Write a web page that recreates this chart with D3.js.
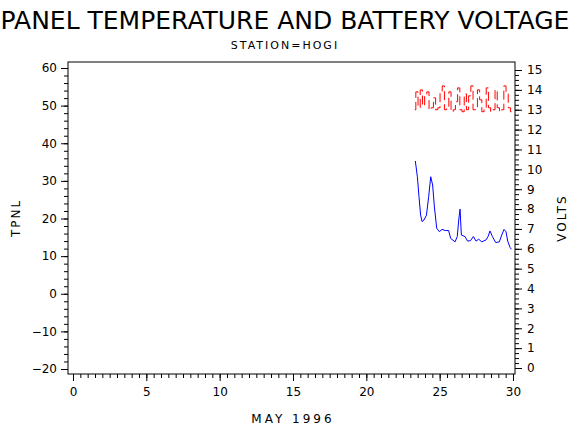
<!DOCTYPE html>
<html><head><meta charset="utf-8">
<script src="https://cdn.jsdelivr.net/npm/d3@7"></script>
<style>body{margin:0;background:#fff}text{font-family:"DejaVu Sans",sans-serif}</style>
</head><body><svg id="c" width="570" height="430"></svg>
<script>
const tpnlDays=[23.34,23.48,23.59,23.7,23.8,23.93,24.1,24.25,24.39,24.52,24.64,24.8,24.98,25.16,25.39,25.61,25.75,26.05,26.2,26.3,26.39,26.48,26.73,26.9,27.1,27.3,27.48,27.66,27.87,28.16,28.3,28.43,28.6,28.82,29.07,29.23,29.39,29.52,29.64,29.8,29.9];
const tpnl=[35.3,31.1,25.8,20.9,19.2,19.6,20.9,25.8,31.1,28.9,23.1,17.4,16.5,17.1,16.8,16.8,14.7,13.8,15.2,19.6,22.5,15.6,15.2,14.0,14.1,15.2,14.0,14.5,13.8,14.3,15.2,16.7,15.2,13.6,13.8,15.6,17.1,16.5,14.0,12.3,11.8];
const voltDays=[23.3,23.45,23.6,23.75,23.9,24.05,24.2,24.35,24.5,24.65,24.8,24.95,25.1,25.25,25.4,25.55,25.7,25.85,26.0,26.15,26.3,26.45,26.6,26.75,26.9,27.05,27.2,27.35,27.5,27.65,27.8,27.95,28.1,28.25,28.4,28.55,28.7,28.85,29.0,29.15,29.3,29.45,29.6,29.75,29.9];
const volts=[13.0,13.9,13.1,14.0,13.2,13.8,13.9,13.0,13.1,13.6,13.0,13.1,13.9,14.2,13.0,13.1,13.9,12.9,13.0,13.4,14.1,13.0,12.9,13.8,13.0,13.7,14.2,13.0,13.0,14.0,13.5,12.9,13.0,14.1,13.1,12.9,13.0,14.0,13.1,12.9,13.0,14.2,13.9,13.1,12.9];
const xTicks=[0,5,10,15,20,25,30];
const leftTicks=[-20,-10,0,10,20,30,40,50,60];
const rightTicks=d3.range(0,16);

const svg=d3.select("#c");
const L=68,R=515,T=62,B=374;
const x=d3.scaleLinear().domain([0,30]).range([73,513]);
const yL=d3.scaleLinear().domain([-20,60]).range([369,68]);
const yR=d3.scaleLinear().domain([0,15]).range([368,70]);

svg.append("rect").attr("x",L).attr("y",T).attr("width",R-L).attr("height",B-T).attr("fill","none").attr("stroke","#000");

const fs="12px";
function styleAxis(g){g.select(".domain").remove();g.selectAll("line").attr("stroke","#000");g.selectAll("text").attr("font-size",fs).attr("fill","#000");}
svg.append("g").attr("transform",`translate(0,${B})`).call(d3.axisBottom(x).tickValues(d3.range(0,30.01,0.5)).tickSize(4).tickFormat("")).call(styleAxis);
svg.append("g").attr("transform",`translate(0,${B})`).call(d3.axisBottom(x).tickValues(xTicks).tickSize(7).tickPadding(6)).call(styleAxis);
svg.append("g").attr("transform",`translate(${L},0)`).call(d3.axisLeft(yL).tickValues(d3.range(-20,60.01,2)).tickSize(4).tickFormat("")).call(styleAxis);
svg.append("g").attr("transform",`translate(${L},0)`).call(d3.axisLeft(yL).tickValues(leftTicks).tickSize(7).tickPadding(4)).call(styleAxis);
svg.append("g").attr("transform",`translate(${R},0)`).call(d3.axisRight(yR).tickValues(d3.range(0,15.01,0.25)).tickSize(4).tickFormat("")).call(styleAxis);
svg.append("g").attr("transform",`translate(${R},0)`).call(d3.axisRight(yR).tickValues(rightTicks).tickSize(7).tickPadding(5)).call(styleAxis);

svg.append("text").attr("x",285).attr("y",29).attr("text-anchor","middle").attr("font-size","25px").text("PANEL TEMPERATURE AND BATTERY VOLTAGE");
svg.append("text").attr("x",285).attr("y",49).attr("text-anchor","middle").attr("font-size","11px").attr("letter-spacing","2px").text("STATION=HOGI");
svg.append("text").attr("x",293).attr("y",423).attr("text-anchor","middle").attr("font-size","12px").attr("letter-spacing","3px").text("MAY 1996");
svg.append("text").attr("transform","translate(20,218) rotate(-90)").attr("text-anchor","middle").attr("font-size","12px").attr("letter-spacing","2px").text("TPNL");
svg.append("text").attr("transform","translate(566,218) rotate(-90)").attr("text-anchor","middle").attr("font-size","12px").attr("letter-spacing","2px").text("VOLTS");

svg.append("path").datum(tpnlDays.map((d,i)=>[d,tpnl[i]])).attr("fill","none").attr("stroke","#0000ff").attr("stroke-width",1)
 .attr("d",d3.line().x(d=>x(d[0])).y(d=>yL(d[1])));
svg.append("path").datum(voltDays.map((d,i)=>[d,volts[i]])).attr("fill","none").attr("stroke","#ff0000").attr("stroke-width",1).attr("stroke-dasharray","9,4")
 .attr("d",d3.line().curve(d3.curveStep).x(d=>x(d[0])).y(d=>yR(d[1])));
</script></body></html>
